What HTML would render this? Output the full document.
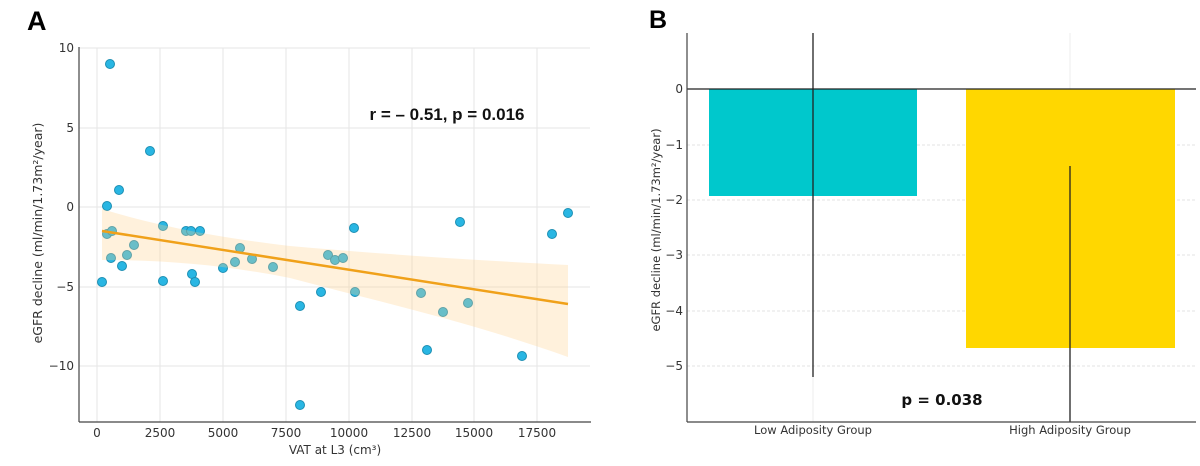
<!DOCTYPE html>
<html><head><meta charset="utf-8"><style>
html,body{margin:0;padding:0;background:#fff;}
svg{display:block;font-family:"Liberation Sans","DejaVu Sans",sans-serif;}
.t{font-size:12px;fill:#333;font-family:"DejaVu Sans","Liberation Sans",sans-serif;}
</style></head><body>
<svg width="1200" height="466" viewBox="0 0 1200 466" xmlns="http://www.w3.org/2000/svg">
<rect width="1200" height="466" fill="#fff"/>
<!-- Panel A -->
<text x="27" y="30" font-size="27" font-weight="bold" fill="#000">A</text>
<g stroke="#e6e6e6" stroke-width="1">
<line x1="79" x2="590" y1="48" y2="48"/><line x1="79" x2="590" y1="128" y2="128"/>
<line x1="79" x2="590" y1="207" y2="207"/><line x1="79" x2="590" y1="287" y2="287"/>
<line x1="79" x2="590" y1="366" y2="366"/>
<line x1="97" x2="97" y1="48" y2="422"/><line x1="160" x2="160" y1="48" y2="422"/>
<line x1="223" x2="223" y1="48" y2="422"/><line x1="286" x2="286" y1="48" y2="422"/>
<line x1="349" x2="349" y1="48" y2="422"/><line x1="412" x2="412" y1="48" y2="422"/>
<line x1="474" x2="474" y1="48" y2="422"/><line x1="537" x2="537" y1="48" y2="422"/>
</g>
<g fill="#29b6e3" stroke="#1d8fb3" stroke-width="1">
<circle cx="110" cy="64" r="4.5"/><circle cx="150" cy="151" r="4.5"/><circle cx="119" cy="190" r="4.5"/>
<circle cx="107" cy="206" r="4.5"/><circle cx="107" cy="234" r="4.5"/><circle cx="112" cy="231" r="4.5"/>
<circle cx="111" cy="258" r="4.5"/><circle cx="102" cy="282" r="4.5"/><circle cx="127" cy="255" r="4.5"/>
<circle cx="134" cy="245" r="4.5"/><circle cx="122" cy="266" r="4.5"/><circle cx="163" cy="226" r="4.5"/>
<circle cx="163" cy="281" r="4.5"/><circle cx="186" cy="231" r="4.5"/><circle cx="191" cy="231" r="4.5"/>
<circle cx="200" cy="231" r="4.5"/><circle cx="192" cy="274" r="4.5"/><circle cx="195" cy="282" r="4.5"/>
<circle cx="223" cy="268" r="4.5"/><circle cx="235" cy="262" r="4.5"/><circle cx="240" cy="248" r="4.5"/>
<circle cx="252" cy="259" r="4.5"/><circle cx="273" cy="267" r="4.5"/><circle cx="300" cy="306" r="4.5"/>
<circle cx="321" cy="292" r="4.5"/><circle cx="300" cy="405" r="4.5"/><circle cx="328" cy="255" r="4.5"/>
<circle cx="335" cy="260" r="4.5"/><circle cx="343" cy="258" r="4.5"/><circle cx="354" cy="228" r="4.5"/>
<circle cx="355" cy="292" r="4.5"/><circle cx="421" cy="293" r="4.5"/><circle cx="427" cy="350" r="4.5"/>
<circle cx="443" cy="312" r="4.5"/><circle cx="460" cy="222" r="4.5"/><circle cx="468" cy="303" r="4.5"/>
<circle cx="522" cy="356" r="4.5"/><circle cx="552" cy="234" r="4.5"/><circle cx="568" cy="213" r="4.5"/>
</g>
<path d="M102,209 C170,230 240,240 290,246 C380,254 470,260 568,265 L568,357 C470,322 380,302 290,278 C230,266 170,260 102,260 Z" fill="#ffd28a" fill-opacity="0.3"/>
<line x1="102" y1="231" x2="568" y2="304" stroke="#f0a11a" stroke-width="2.5"/>
<g stroke="#444" stroke-width="1.2" fill="none">
<line x1="79" y1="47" x2="79" y2="422"/><line x1="79" y1="422" x2="591" y2="422"/>
</g>
<g class="t" text-anchor="end">
<text x="74" y="52">10</text><text x="74" y="132">5</text><text x="74" y="211">0</text>
<text x="74" y="291">−5</text><text x="74" y="370">−10</text>
</g>
<g class="t" text-anchor="middle">
<text x="97" y="437">0</text><text x="160" y="437">2500</text><text x="223" y="437">5000</text>
<text x="286" y="437">7500</text><text x="349" y="437">10000</text><text x="412" y="437">12500</text>
<text x="474" y="437">15000</text><text x="537" y="437">17500</text>
<text x="335" y="454">VAT at L3 (cm³)</text>
<text transform="translate(42,233) rotate(-90)" style="font-size:12.5px">eGFR decline (ml/min/1.73m²/year)</text>
</g>
<text x="447" y="120" text-anchor="middle" font-size="17" font-weight="bold" fill="#111">r = – 0.51, p = 0.016</text>

<!-- Panel B -->
<text x="649" y="28" font-size="25" font-weight="bold" fill="#000">B</text>
<g stroke="#e3e3e3" stroke-width="1" stroke-dasharray="3,2">
<line x1="687" x2="1195" y1="145" y2="145"/><line x1="687" x2="1195" y1="200" y2="200"/>
<line x1="687" x2="1195" y1="255" y2="255"/><line x1="687" x2="1195" y1="311" y2="311"/>
<line x1="687" x2="1195" y1="366" y2="366"/>
</g>
<g stroke="#eee" stroke-width="1"><line x1="813" x2="813" y1="33" y2="422"/><line x1="1070" x2="1070" y1="33" y2="422"/></g>
<rect x="709" y="89" width="208" height="107" fill="#00c8cc"/>
<rect x="966" y="89" width="209" height="259" fill="#ffd700"/>
<line x1="687" y1="89" x2="1196" y2="89" stroke="#222" stroke-width="1.3"/>
<line x1="813" y1="33" x2="813" y2="377" stroke="#222" stroke-width="1.3"/>
<line x1="1070" y1="166" x2="1070" y2="422" stroke="#222" stroke-width="1.3"/>
<g stroke="#444" stroke-width="1.2"><line x1="687" y1="33" x2="687" y2="422"/><line x1="687" y1="422" x2="1196" y2="422"/></g>
<g class="t" text-anchor="end" style="font-size:12px">
<text x="683" y="93">0</text><text x="683" y="149">−1</text><text x="683" y="204">−2</text>
<text x="683" y="259">−3</text><text x="683" y="315">−4</text><text x="683" y="370">−5</text>
</g>
<g class="t" text-anchor="middle" style="font-size:11.5px">
<text x="813" y="434">Low Adiposity Group</text><text x="1070" y="434">High Adiposity Group</text>
<text transform="translate(660,230) rotate(-90)">eGFR decline (ml/min/1.73m²/year)</text>
</g>
<text x="942" y="405" text-anchor="middle" font-size="15" font-weight="bold" fill="#111" font-family="DejaVu Sans, sans-serif">p = 0.038</text>
</svg>
</body></html>
